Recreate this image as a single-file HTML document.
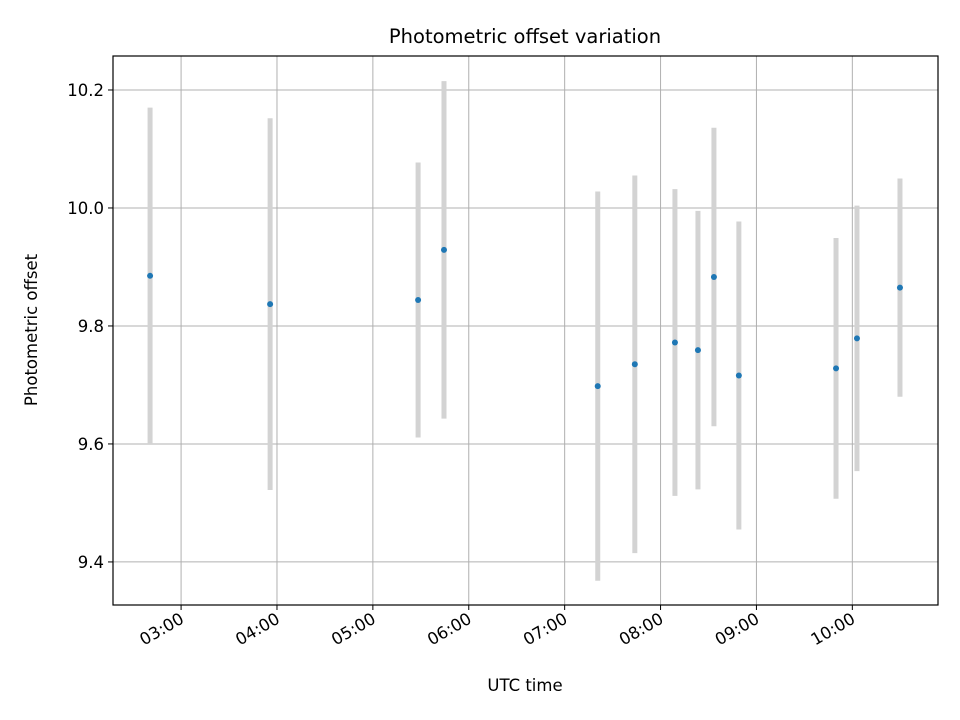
<!DOCTYPE html>
<html><head><meta charset="utf-8"><style>
body{margin:0;background:#fff;}
svg{display:block;font-family:"DejaVu Sans","Liberation Sans",sans-serif;}
</style></head><body>
<svg id="chart" width="960" height="720" viewBox="0 0 960 720" xmlns="http://www.w3.org/2000/svg">
<rect width="960" height="720" fill="#fff"/>
<g id="grid"></g>
<g id="errs"></g>
<g id="pts"></g>
<rect x="113" y="56" width="825" height="549" fill="none" stroke="#000" stroke-width="1.2"/>
<g id="ticks"></g>
<text x="525" y="43" font-size="19.5" text-anchor="middle">Photometric offset variation</text>
<text x="525" y="691" font-size="16.5" text-anchor="middle">UTC time</text>
<text transform="translate(37,330) rotate(-90)" font-size="16.5" text-anchor="middle">Photometric offset</text>
</svg>
<script>
const times = ["02:40.6","03:55.7","05:28.3","05:44.5","07:20.7","07:43.9","08:09.0","08:23.4","08:33.4","08:49.0","09:49.8","10:02.9","10:29.8"];
const offsets = [9.885,9.837,9.844,9.929,9.698,9.735,9.772,9.759,9.883,9.716,9.728,9.779,9.865];
const errors = [0.285,0.315,0.233,0.286,0.33,0.32,0.26,0.236,0.253,0.261,0.221,0.225,0.185];
const xTickLabels = ["03:00","04:00","05:00","06:00","07:00","08:00","09:00","10:00"];
const yTickValues = [9.4,9.6,9.8,10.0,10.2];

const NS="http://www.w3.org/2000/svg";
const L=113,R=938,T=56,B=605;
const xMin=2*60+17.4, xMax=10*60+53.6, yMin=9.327, yMax=10.2576;
function toMin(s){const [h,m]=s.split(":");return +h*60+parseFloat(m);}
const xs=m=>L+(m-xMin)/(xMax-xMin)*(R-L);
const ys=v=>B-(v-yMin)/(yMax-yMin)*(B-T);
function mk(tag,attrs,parent,name){const e=document.createElementNS(NS,tag);for(const k in attrs)e.setAttribute(k,attrs[k]);


parent.appendChild(e);return e;}
const grid=document.getElementById('grid'),ticks=document.getElementById('ticks');
xTickLabels.forEach(lb=>{const x=xs(toMin(lb));
mk('line',{x1:x,x2:x,y1:T,y2:B,stroke:'#b0b0b0','stroke-width':1},grid,'x-grid-line');
mk('line',{x1:x,x2:x,y1:B,y2:B+5,stroke:'#000'},ticks,'x-tick');
const t=mk('text',{x:0,y:0,'font-size':16.5,'text-anchor':'end',transform:`translate(${x+4},${B+17}) rotate(-30)`},ticks,'x-tick-label');t.textContent=lb;});
yTickValues.forEach(v=>{const y=ys(v);
mk('line',{x1:L,x2:R,y1:y,y2:y,stroke:'#b0b0b0','stroke-width':1},grid,'y-grid-line');
mk('line',{x1:L-5,x2:L,y1:y,y2:y,stroke:'#000'},ticks,'y-tick');
const t=mk('text',{x:L-9,y:y+6,'font-size':16.5,'text-anchor':'end'},ticks,'y-tick-label');t.textContent=v.toFixed(1);});
const errs=document.getElementById('errs'),pts=document.getElementById('pts');
times.forEach((tm,i)=>{const x=xs(toMin(tm));
mk('line',{x1:x,x2:x,y1:ys(offsets[i]+errors[i]),y2:ys(offsets[i]-errors[i]),stroke:'#d3d3d3','stroke-width':5},errs,'error-bar');
mk('circle',{cx:x,cy:ys(offsets[i]),r:3,fill:'#1f77b4'},pts,'data-point');});
</script>
</body></html>
